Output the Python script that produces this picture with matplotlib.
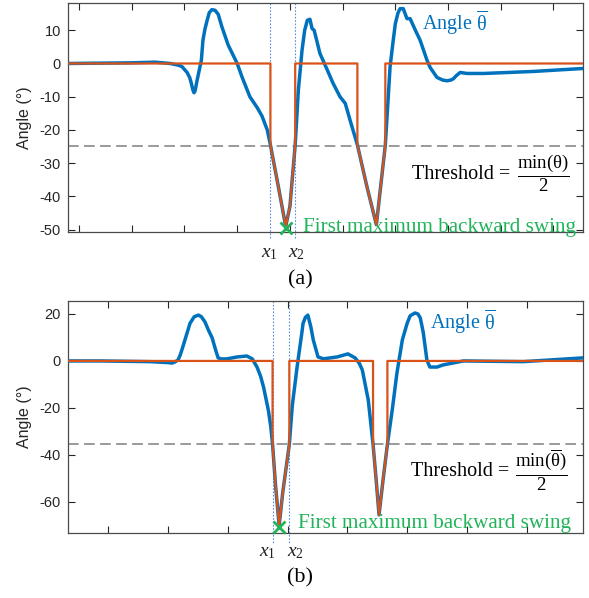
import numpy as np
import matplotlib
matplotlib.use("Agg")
import matplotlib.pyplot as plt
from matplotlib.transforms import blended_transform_factory, offset_copy

plt.rcParams["font.family"] = ["Liberation Sans", "DejaVu Sans"]
plt.rcParams["mathtext.fontset"] = "custom"
plt.rcParams["mathtext.rm"] = "Liberation Serif"
plt.rcParams["mathtext.it"] = "Liberation Serif:italic"
plt.rcParams["axes.unicode_minus"] = False

# ---- panel (a) ----
a_x = [-21, 40, 100, 144, 173, 188, 195, 205, 210, 213, 216, 218, 220, 224, 232, 235,
       239, 243, 247, 252, 258, 264, 271, 283, 300, 309, 324, 338, 347, 357, 363,
       378, 392, 400, 410, 416, 423, 428, 433, 438, 442, 446, 457, 471, 482, 495,
       505, 514, 528, 546, 564, 581, 590, 596, 600, 605, 609, 615, 622, 628, 638,
       647, 660, 666, 679, 690, 698, 705, 710, 716, 723, 736, 767, 861, 956]
a_y = [0.0, 0.1, 0.2, 0.4, 0.0, -0.5, -0.9, -2.7, -4.3, -6.0, -8.0, -8.8, -8.3, -5.0, 1.0, 7.0,
       10.5, 13.0, 15.3, 16.2, 16.0, 14.8, 11.0, 5.5, 0.0, -4.0, -10.0, -13.3, -15.8, -20.0, -24.5,
       -37.0, -49.0, -43.0, -24.5, -8.0, 4.0, 10.0, 13.0, 13.3, 10.5, 10.0, 3.0, -2.0, -6.0, -10.0,
       -12.0, -17.0, -24.5, -37.0, -48.5, -24.5, -1.0, 7.0, 12.0, 15.2, 16.5, 16.5, 13.5, 13.5, 10.0,
       7.0, 1.0, -1.2, -4.2, -5.0, -5.2, -5.0, -4.6, -3.6, -2.7, -3.0, -3.0, -2.4, -1.5]
a_ox = [-21, 363, 363, 378, 392, 400, 410, 410, 528, 528, 546, 564, 581, 581, 956]
a_oy = [0, 0, -24.5, -37.0, -49.0, -43.0, -24.5, 0, 0, -24.5, -37.0, -48.5, -24.5, 0, 0]
a_thr = -24.7
a_x1, a_x2 = 363, 410
a_lab = (362, 412)
a_min = (393, -49.6)

# ---- panel (b) ----
b_x = [33, 87, 170, 200, 207, 212, 217, 221, 225, 231, 237, 244, 251, 256, 262,
       268, 274, 280, 284, 290, 299, 316, 332, 341, 349, 355, 360, 368, 372, 375,
       380, 386, 392, 403, 408, 416, 424, 426, 430, 434, 439, 443, 451, 460, 483,
       501, 513, 520, 525, 535, 543, 548, 553, 560, 567, 575, 583, 592, 600, 605,
       613, 618, 622, 627, 633, 638, 650, 660, 694, 794, 894]
b_y = [0.0, 0.0, -0.3, -0.7, -0.9, -0.4, 0.4, 2.8, 6.0, 11.0, 16.0, 18.8, 19.5, 18.8, 16.6,
       13.0, 9.8, 4.5, 1.3, 0.8, 0.9, 1.7, 2.1, 0.9, -2.6, -6.5, -11.2, -21.0, -28.0, -35.5,
       -53.0, -70.0, -56.0, -35.5, -19.0, -2.6, 12.0, 16.0, 18.6, 19.5, 14.5, 9.0, 1.7, 0.9, 1.7,
       3.0, 1.3, -1.0, -3.8, -16.6, -35.5, -50.0, -65.5, -50.0, -35.5, -21.0, -5.0, 9.0, 16.0, 19.2,
       20.4, 20.0, 18.3, 12.0, 0.4, -2.6, -2.6, -1.7, 0.0, -0.3, 1.3]
b_ox = [33, 375, 375, 380, 386, 392, 403, 403, 543, 543, 548, 553, 560, 567, 567, 894]
b_oy = [0, 0, -35.5, -53.0, -70.0, -56.0, -35.5, 0, 0, -35.5, -50.0, -65.5, -50.0, -35.5, 0, 0]
b_thr = -35.5
b_x1, b_x2 = 375, 403
b_lab = (367, 414)
b_min = (386, -70.5)

BLUE = "#0072BD"
ORANGE = "#D95319"
GREEN = "#21b45a"
SERIF = "Liberation Serif"

fig = plt.figure(figsize=(5.89, 5.98), dpi=100)
ax_a = fig.add_axes([68 / 589, 1 - 232 / 598, 515 / 589, 229 / 598])
ax_b = fig.add_axes([68 / 589, 1 - 533 / 598, 515 / 589, 232 / 598])
renderer = fig.canvas.get_renderer()


def draw_panel(ax, x, y, ox, oy, thr, x1, x2, lab_x, mn, xlim, ylim, xticks, yticks,
               frac_label, thr_pos, ang_pos, swing_pos, xlab_y, line_end):
    ax.plot(x, y, color=BLUE, lw=2.5, solid_capstyle="round",
            solid_joinstyle="round", zorder=3)
    ax.plot(ox, oy, color=ORANGE, lw=1.6, zorder=4)
    ax.axhline(thr, color="#7f7f7f", lw=1.1, dashes=(7, 3.5), zorder=2)
    tr = blended_transform_factory(ax.transData, ax.transAxes)
    for xv in (x1, x2):
        ax.plot([xv, xv], [1, line_end], transform=tr, color="#5b8fd6", lw=0.8,
                linestyle=(0, (1.5, 1.5)), clip_on=False, zorder=2)
    for xl, lab in zip(lab_x, (r"$x_1$", r"$x_2$")):
        ax.text(xl, xlab_y, lab, transform=tr, ha="center", va="center",
                fontsize=14, color="#222222")
    ax.plot([mn[0]], [mn[1]], marker="x", color=GREEN, ms=9, mew=2,
            clip_on=False, zorder=5)
    ax.text(swing_pos[0], swing_pos[1], "First maximum backward swing",
            color=GREEN, fontsize=15.2, family=SERIF, ha="left", va="center")
    ax.text(ang_pos[0], ang_pos[1], r"Angle $\overline{\mathrm{\theta}}$",
            color=BLUE, fontsize=14.5, family=SERIF, ha="left", va="center")
    ax.set_xlim(xlim)
    ax.set_ylim(ylim)
    # threshold label: fraction a bit smaller than the words before it
    frac = ax.text(thr_pos[0], thr_pos[1], frac_label, color="black", fontsize=13.5,
                   family=SERIF, ha="right", va="center")
    w = frac.get_window_extent(renderer).width
    ax.text(thr_pos[0], thr_pos[1], "Threshold =", color="black", fontsize=14.5,
            family=SERIF, ha="right", va="center",
            transform=offset_copy(ax.transData, fig=fig, x=-(w + 6), y=-1, units="dots"))
    ax.set_xticks(xticks)
    ax.set_xticklabels([])
    ax.set_yticks(yticks)
    ax.tick_params(direction="in", top=True, right=True, length=5, width=0.8,
                   colors="#262626", labelsize=10.5, pad=5)
    for s in ax.spines.values():
        s.set_color("#4a4a4a")
        s.set_linewidth(0.9)
    ax.set_ylabel("Angle (°)", fontsize=11.5, color="#262626")
    ax.yaxis.set_label_coords(-0.07, 0.5)


draw_panel(ax_a, a_x, a_y, a_ox, a_oy, a_thr, a_x1, a_x2, a_lab, a_min,
           (-21, 956), (-50.7, 18.2), np.arange(0, 901, 100), np.arange(-50, 11, 10),
           r"$\dfrac{\mathrm{min}(\mathrm{\theta})}{2}$", (930, -33.0),
           (651, 12.3), (425, -49.3), -0.092, -0.03)
draw_panel(ax_b, b_x, b_y, b_ox, b_oy, b_thr, b_x1, b_x2, b_lab, b_min,
           (33, 894), (-73.2, 25.5), np.arange(100, 801, 100), np.arange(-60, 21, 20),
           r"$\dfrac{\mathrm{min}(\overline{\mathrm{\theta}})}{2}$", (868, -46.4),
           (638, 16.6), (418, -69.0), -0.086, -0.043)

fig.text(300 / 589, 1 - 280 / 598, "(a)", fontsize=16, family=SERIF,
         ha="center", va="center")
fig.text(300 / 589, 1 - 578 / 598, "(b)", fontsize=16, family=SERIF,
         ha="center", va="center")

fig.savefig("out.png", dpi=100)
plt.close(fig)
